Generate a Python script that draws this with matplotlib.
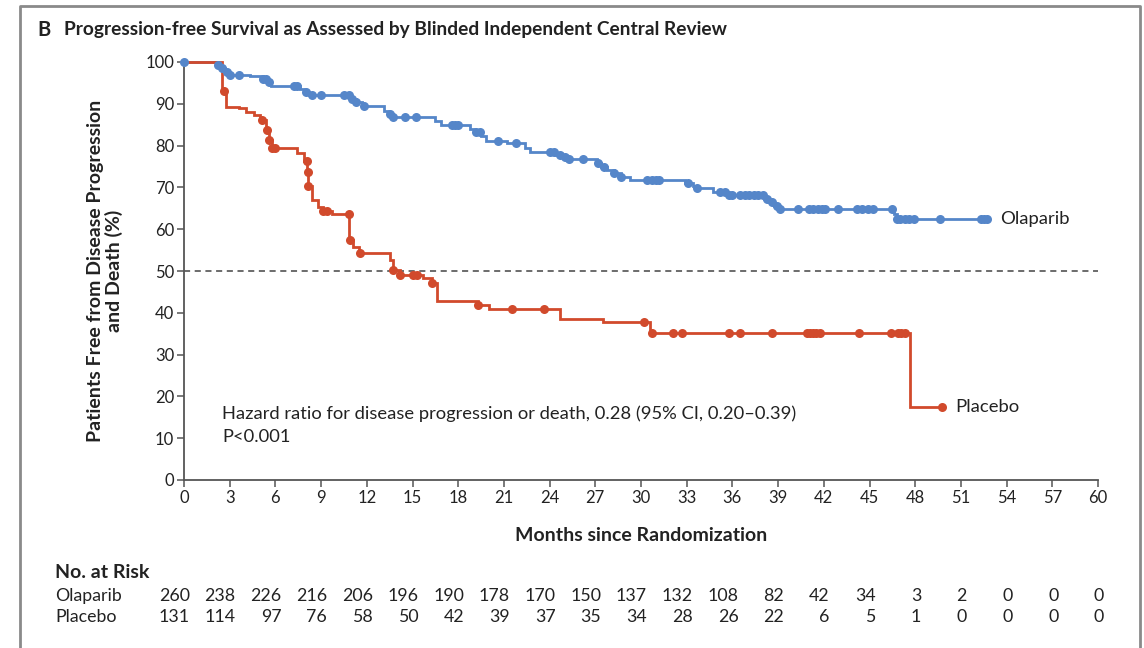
import numpy as np
import matplotlib
matplotlib.use("Agg")
import matplotlib.pyplot as plt
from matplotlib.lines import Line2D
import matplotlib.transforms as mtransforms

plt.rcParams['font.family'] = ['Lato', 'DejaVu Sans']

# ---- Kaplan-Meier data (months, % progression-free) ----
ola_event_months = [2.2, 2.45, 2.7, 2.9, 4.3, 5.2, 5.5, 5.7, 7.6, 7.9, 8.2,
                    10.9, 11.3, 11.7, 13.1, 13.4, 13.7, 16.5, 16.9, 18.8, 19.1,
                    19.5, 19.8, 21.2, 22.4, 22.7, 24.4, 24.9, 25.3, 27.1, 27.4,
                    27.8, 28.2, 28.7, 29.3, 32.9, 33.4, 33.7, 34.7, 35.6, 38.1,
                    38.4, 38.7, 39.1, 46.6, 46.8]
ola_event_surv = [99.2, 98.5, 97.7, 97.0, 96.6, 96.0, 95.3, 94.3, 93.6, 92.8, 92.1,
                  91.1, 90.4, 89.5, 88.3, 87.6, 86.9, 85.9, 84.9, 84.0, 83.3,
                  82.2, 81.0, 80.6, 79.4, 78.5, 77.8, 77.3, 76.8, 75.9, 75.0,
                  74.2, 73.5, 72.5, 71.8, 71.0, 70.3, 69.8, 69.0, 68.2, 67.3,
                  66.4, 65.6, 64.8, 63.6, 62.4]
ola_censor_months = [0.0, 2.2, 2.5, 2.8, 3.0, 3.6, 5.2, 5.4, 5.6, 7.2, 7.4, 8.0,
                     8.4, 9.0, 10.5, 10.8, 11.0, 11.3, 11.8, 13.5, 13.7, 14.5,
                     15.2, 17.6, 17.8, 18.0, 19.2, 19.4, 20.6, 21.8, 24.0, 24.3,
                     24.7, 25.0, 25.3, 26.2, 27.2, 27.6, 28.2, 28.7, 30.4, 30.7,
                     31.0, 31.2, 33.1, 33.7, 35.2, 35.5, 35.8, 36.0, 36.5, 36.8,
                     37.1, 37.4, 37.7, 38.0, 38.3, 38.6, 38.9, 39.1, 40.3, 41.0,
                     41.3, 41.6, 41.9, 42.1, 42.9, 44.2, 44.5, 44.9, 45.2, 46.5,
                     46.8, 47.0, 47.3, 47.6, 47.9, 49.6, 52.3, 52.5, 52.7]
ola_end_month = 52.7

pla_event_months = [2.5, 2.75, 3.6, 4.1, 4.6, 5.0, 5.4, 5.6, 5.75, 7.4, 7.9,
                    8.1, 8.15, 8.4, 8.8, 9.1, 9.7, 10.85, 11.1, 11.5, 13.5,
                    13.75, 14.2, 15.7, 16.3, 16.6, 19.3, 20.0, 24.7, 27.5,
                    30.6, 47.66]
pla_event_surv = [93.0, 89.3, 88.9, 88.1, 87.3, 86.1, 83.7, 81.3, 79.4, 78.2, 76.2,
                  73.8, 70.4, 67.0, 65.4, 64.4, 63.6, 57.4, 55.8, 54.2, 52.6,
                  50.2, 49.0, 48.3, 47.1, 42.9, 41.9, 40.9, 38.5, 37.9,
                  35.2, 17.5]
pla_censor_months = [2.65, 5.15, 5.45, 5.6, 5.8, 6.0, 8.05, 8.12, 8.17, 9.1, 9.4,
                     10.8, 10.9, 11.55, 13.75, 14.2, 15.0, 15.3, 16.3, 19.3,
                     21.5, 23.65, 30.2, 30.75, 32.1, 32.7, 35.8, 36.5, 38.6,
                     40.9, 41.1, 41.3, 41.5, 41.75, 44.3, 46.4, 46.9, 47.1, 47.3,
                     49.74]
pla_end_month = 49.74

risk_months = list(range(0, 61, 3))
ola_at_risk = [260, 238, 226, 216, 206, 196, 190, 178, 170, 150, 137, 132, 108,
               82, 42, 34, 3, 2, 0, 0, 0]
pla_at_risk = [131, 114, 97, 76, 58, 50, 42, 39, 37, 35, 34, 28, 26, 22, 6, 5,
               1, 0, 0, 0, 0]

BLUE = '#5586c9'
RED = '#d14a2c'
TXT = '#222222'


def km_path(ev_t, ev_s, end_t):
    t = np.concatenate([[0.0], ev_t, [end_t]])
    s = np.concatenate([[100.0], ev_s, [ev_s[-1]]])
    return t, s


def surv_at(ev_t, ev_s, x):
    ev_t = np.asarray(ev_t)
    ev_s = np.asarray(ev_s)
    idx = np.searchsorted(ev_t, np.asarray(x), side='right') - 1
    return np.where(idx < 0, 100.0, ev_s[np.clip(idx, 0, None)])


fig = plt.figure(figsize=(11.44, 6.48), dpi=100)
W, H = 1144, 648

# axes area in pixel coordinates: x 184..1098, y 62..480
ax = fig.add_axes([184 / W, 1 - 480 / H, (1098 - 184) / W, (480 - 62) / H])
ax.set_xlim(0, 60)
ax.set_ylim(0, 100)

for sp in ['top', 'right']:
    ax.spines[sp].set_visible(False)
for sp in ['left', 'bottom']:
    ax.spines[sp].set_color('#555555')
    ax.spines[sp].set_linewidth(1.3)

ax.set_xticks(np.arange(0, 61, 3))
ax.set_yticks(np.arange(0, 101, 10))
ax.tick_params(axis='both', direction='out', length=5, width=1.1,
               color='#555555', labelsize=12, labelcolor=TXT, pad=2)

# 50% reference line
ax.axhline(50, color='#444444', lw=1.1, ls=(0, (4, 3)), zorder=1)

for ev_t, ev_s, cen, end_t, col in [
        (ola_event_months, ola_event_surv, ola_censor_months, ola_end_month, BLUE),
        (pla_event_months, pla_event_surv, pla_censor_months, pla_end_month, RED)]:
    t, s = km_path(ev_t, ev_s, end_t)
    ax.step(t, s, where='post', color=col, lw=2.0, zorder=3, clip_on=False,
            solid_joinstyle='miter')
    ax.plot(cen, surv_at(ev_t, ev_s, cen), 'o', color=col, ms=6.5,
            mew=0, zorder=4, clip_on=False)

ax.text(ola_end_month + 0.9, ola_event_surv[-1], 'Olaparib', fontsize=13.3,
        color=TXT, va='center', ha='left')
ax.text(pla_end_month + 0.9, pla_event_surv[-1], 'Placebo', fontsize=13.3,
        color=TXT, va='center', ha='left')

ax.text(2.5, 15.9, 'Hazard ratio for disease progression or death, 0.28 (95% CI, 0.20\u20130.39)',
        fontsize=13.2, color=TXT, va='center', ha='left')
ax.text(2.5, 10.2, 'P<0.001', fontsize=13.2, color=TXT, va='center', ha='left')

ax.set_xlabel('Months since Randomization', fontsize=14, fontweight='bold',
              color=TXT, labelpad=15)
ax.set_ylabel('Patients Free from Disease Progression\nand Death (%)',
              fontsize=14, fontweight='bold', color=TXT, labelpad=16,
              linespacing=1.05)

# title
fig.text(37 / W, 1 - 30 / H, 'B', fontsize=14.5, fontweight='bold', color=TXT,
         va='center', ha='left')
fig.text(64 / W, 1 - 30 / H,
         'Progression-free Survival as Assessed by Blinded Independent Central Review',
         fontsize=13.8, fontweight='bold', color=TXT, va='center', ha='left')

# number at risk table
fig.text(55 / W, 1 - 572 / H, 'No. at Risk', fontsize=14, fontweight='bold',
         color=TXT, va='center', ha='left')
fig.text(55 / W, 1 - 596 / H, 'Olaparib', fontsize=12.8, color=TXT,
         va='center', ha='left')
fig.text(55 / W, 1 - 617 / H, 'Placebo', fontsize=12.8, color=TXT,
         va='center', ha='left')
off = mtransforms.offset_copy(ax.get_xaxis_transform(), fig=fig, x=6, y=0,
                              units='dots')
for m, a, b in zip(risk_months, ola_at_risk, pla_at_risk):
    ax.text(m, (480 - 596) / 418, str(a), transform=off, fontsize=12.8,
            color=TXT, ha='right', va='center', clip_on=False)
    ax.text(m, (480 - 617) / 418, str(b), transform=off, fontsize=12.8,
            color=TXT, ha='right', va='center', clip_on=False)

# outer frame (left, top, right)
frame = Line2D([20 / W, 20 / W, 1140 / W, 1140 / W],
               [0, 1 - 6 / H, 1 - 6 / H, 0], transform=fig.transFigure,
               color='#8a8a8a', lw=2.0)
fig.add_artist(frame)

fig.savefig('out.png', dpi=100, facecolor='white')
